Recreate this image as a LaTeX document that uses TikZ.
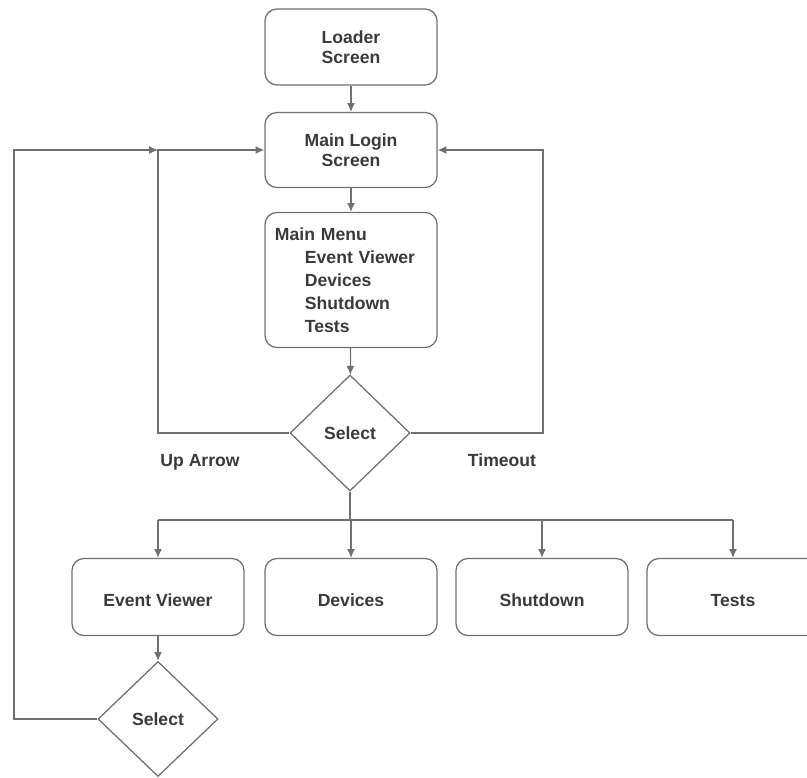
\documentclass[tikz,border=0pt]{standalone}
\usepackage{fontspec}
\setmainfont{Liberation Sans}
\usetikzlibrary{shapes.geometric,arrows.meta}
\definecolor{lineC}{HTML}{707070}
\definecolor{textC}{HTML}{3A3A3A}

\begin{document}
\begin{tikzpicture}[
    x=0.025cm, y=-0.025cm,
    font=\fontsize{12.5}{14}\selectfont\bfseries,
    text=textC,
    line width=0.9pt,
    % ~~~ boxes and decisions ~~~~~~~~~~~
    screen/.style={draw=lineC, rounded corners=0.3cm, align=center,
                   minimum width=4.3cm, minimum height=1.9cm, inner sep=0pt},
    choice/.style={draw=lineC, diamond, inner sep=0pt,
                   minimum width=3cm, minimum height=2.9cm},
    % ~~~ connectors ~~~~~~~~~~~~~~~~~~~~
    link/.style={draw=lineC},
    flow/.style={link, -{Latex[length=2.2mm,width=2mm]}},
 ]
    \useasboundingbox (0,0) rectangle (807,777);
    % ~~~ main column ~~~~~~~~~~~~~~~~~~~~~~~~~~~~~~~
    \node[screen] (loader) at (351,47)  {Loader\\Screen};
    \node[screen, minimum height=1.875cm] (login) at (351,150) {Main Login\\Screen};
    \node[screen, minimum height=3.375cm, align=left, text width=3.8cm,
          inner xsep=0.25cm, font=\fontsize{12.5}{16.3}\selectfont\bfseries]
          (menu) at (351,280)
          {Main Menu\\
           \hspace*{0.75cm}Event Viewer\\
           \hspace*{0.75cm}Devices\\
           \hspace*{0.75cm}Shutdown\\
           \hspace*{0.75cm}Tests};
    \node[choice] (sel) at (350,433) {Select};
    % ~~~ branches ~~~~~~~~~~~~~~~~~~~~~~~~~~~~~~~~~~
    \foreach \name/\x/\txt in {ev/158/Event Viewer, dev/351/Devices,
                               shut/542/Shutdown,   tests/733/Tests}
        \node[screen, minimum height=1.925cm, text height=4.7mm, text depth=0mm]
            (\name) at (\x,597) {\txt};
    \node[choice, minimum height=2.875cm] (selev) at (158,719) {Select};
    % ~~~ labels ~~~~~~~~~~~~~~~~~~~~~~~~~~~~~~~~~~~~
    \node[anchor=base] (uplbl)  at (200,466) {Up Arrow};
    \node[anchor=base] (timlbl) at (502,466) {Timeout};
    % ~~~ helper points ~~~~~~~~~~~~~~~~~~~~~~~~~~~~~
    \coordinate (upc)   at (158,150);
    \coordinate (timc)  at (543,150);
    \coordinate (backc) at (14,150);
    \coordinate (bus)   at (350,520);
    % ~~~ connectors ~~~~~~~~~~~~~~~~~~~~~~~~~~~~~~~~
    \draw[flow] (loader) -- (login);
    \draw[flow] (login)  -- (menu);
    \draw[flow] (menu)   -- (sel);
    \draw[flow] (sel.west) -| (upc) -- (login.west);
    \draw[flow] (sel.east) -| (timc) -- (login.east);
    \draw[link] (sel.south) -- (bus);
    \draw[link] (ev.north |- bus) -- (tests.north |- bus);
    \foreach \name in {ev,dev,shut,tests}
        \draw[flow] (\name.north |- bus) -- (\name.north);
    \draw[flow] (ev) -- (selev);
    \draw[flow] (selev.west) -| (backc) -- (upc);
\end{tikzpicture}
\end{document}
